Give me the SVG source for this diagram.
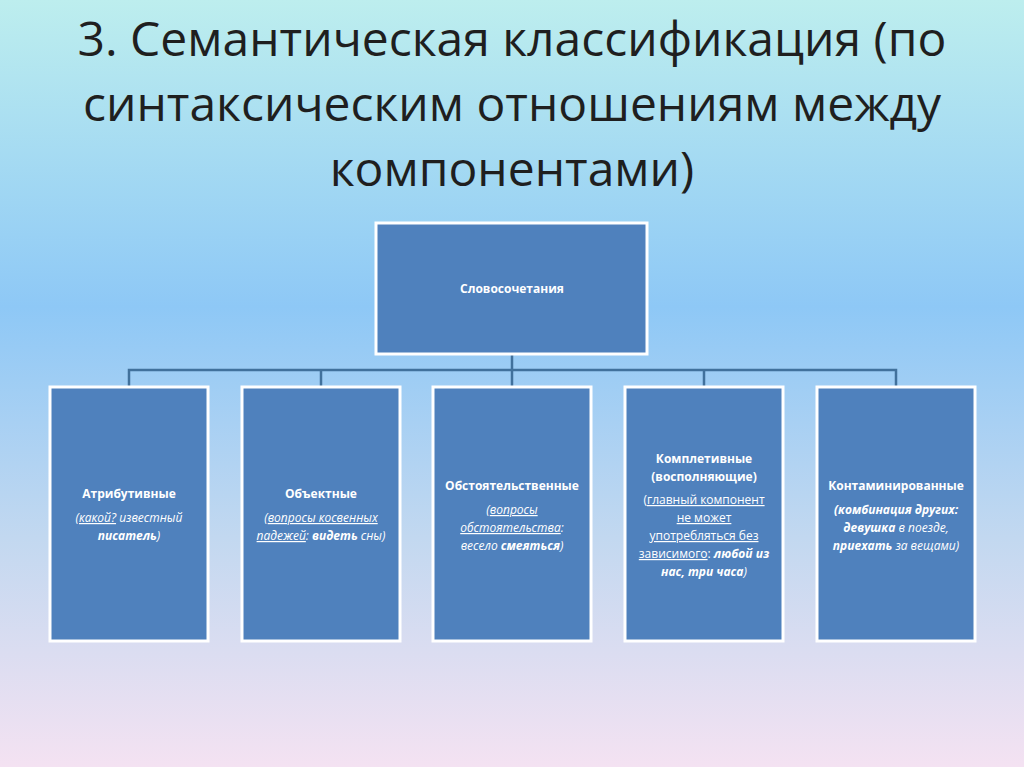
<svg xmlns="http://www.w3.org/2000/svg" width="1024" height="767" viewBox="0 0 1024 767">
<defs>
<linearGradient id="bg" x1="0" y1="0" x2="0" y2="1">
<stop offset="0" stop-color="#bdeeee"/>
<stop offset="0.4" stop-color="#8ec8f6"/>
<stop offset="0.7" stop-color="#c2d8f0"/>
<stop offset="1" stop-color="#f4e2f2"/>
</linearGradient>
</defs>
<style>
.box{fill:#4f81bd;stroke:#fff;stroke-width:3}
.t{font-family:"Open Sans","Liberation Sans",sans-serif;fill:#fff;font-size:12px;text-anchor:middle}
.b{font-weight:bold}
.i{font-style:italic}
.u{text-decoration:underline}
.title{font-family:"Open Sans","Liberation Sans",sans-serif;font-size:48px;fill:#1f1f1f;text-anchor:middle}
.c{fill:none;stroke:#41719c;stroke-width:2.5}
</style>
<rect width="1024" height="767" fill="url(#bg)"/>
<text class="title"><tspan x="512" y="56">3. Семантическая классификация (по</tspan><tspan x="512" y="121">синтаксическим отношениям между</tspan><tspan x="512" y="186">компонентами)</tspan></text>
<g id="connectors">
<path class="c" d="M512 354V370M129 387V370H896V387M321 370V387M512 370V387M704 370V387"/>
</g>
<g id="root"><rect class="box" x="376" y="223" width="271" height="131"/><text class="t b" x="512" y="293">Словосочетания</text></g>
<g id="n1"><rect class="box" x="50" y="387" width="158" height="254"/>
<text class="t"><tspan class="b" x="129" y="498">Атрибутивные</tspan><tspan class="i" x="129" y="522">(<tspan class="u">какой?</tspan> известный</tspan><tspan class="i b" x="129" y="540">писатель<tspan font-weight="normal">)</tspan></tspan></text></g>
<g id="n2"><rect class="box" x="242" y="387" width="158" height="254"/>
<text class="t"><tspan class="b" x="321" y="498">Объектные</tspan><tspan class="i" x="321" y="522">(<tspan class="u">вопросы косвенных</tspan></tspan><tspan class="i" x="321" y="540"><tspan class="u">падежей</tspan>: <tspan class="b">видеть</tspan> сны)</tspan></text></g>
<g id="n3"><rect class="box" x="433" y="387" width="158" height="254"/>
<text class="t"><tspan class="b" x="512" y="490">Обстоятельственные</tspan><tspan class="i" x="512" y="514">(<tspan class="u">вопросы</tspan></tspan><tspan class="i" x="512" y="532"><tspan class="u">обстоятельства</tspan>:</tspan><tspan class="i" x="512" y="550">весело <tspan class="b">смеяться</tspan>)</tspan></text></g>
<g id="n4"><rect class="box" x="625" y="387" width="158" height="254"/>
<text class="t"><tspan class="b" x="704" y="463">Комплетивные</tspan><tspan class="b" x="704" y="481">(восполняющие)</tspan><tspan x="704" y="504">(<tspan class="u">главный компонент</tspan></tspan><tspan class="u" x="704" y="522">не может</tspan><tspan class="u" x="704" y="540">употребляться без</tspan><tspan x="704" y="558"><tspan class="u">зависимого</tspan>: <tspan class="i b">любой из</tspan></tspan><tspan class="i b" x="704" y="576">нас, три часа<tspan font-weight="normal">)</tspan></tspan></text></g>
<g id="n5"><rect class="box" x="817" y="387" width="158" height="254"/>
<text class="t"><tspan class="b" x="896" y="490">Контаминированные</tspan><tspan class="i b" x="896" y="514">(комбинация других:</tspan><tspan class="i" x="896" y="532"><tspan class="b">девушка</tspan> в поезде,</tspan><tspan class="i" x="896" y="550"><tspan class="b">приехать</tspan> за вещами)</tspan></text></g>
</svg>
